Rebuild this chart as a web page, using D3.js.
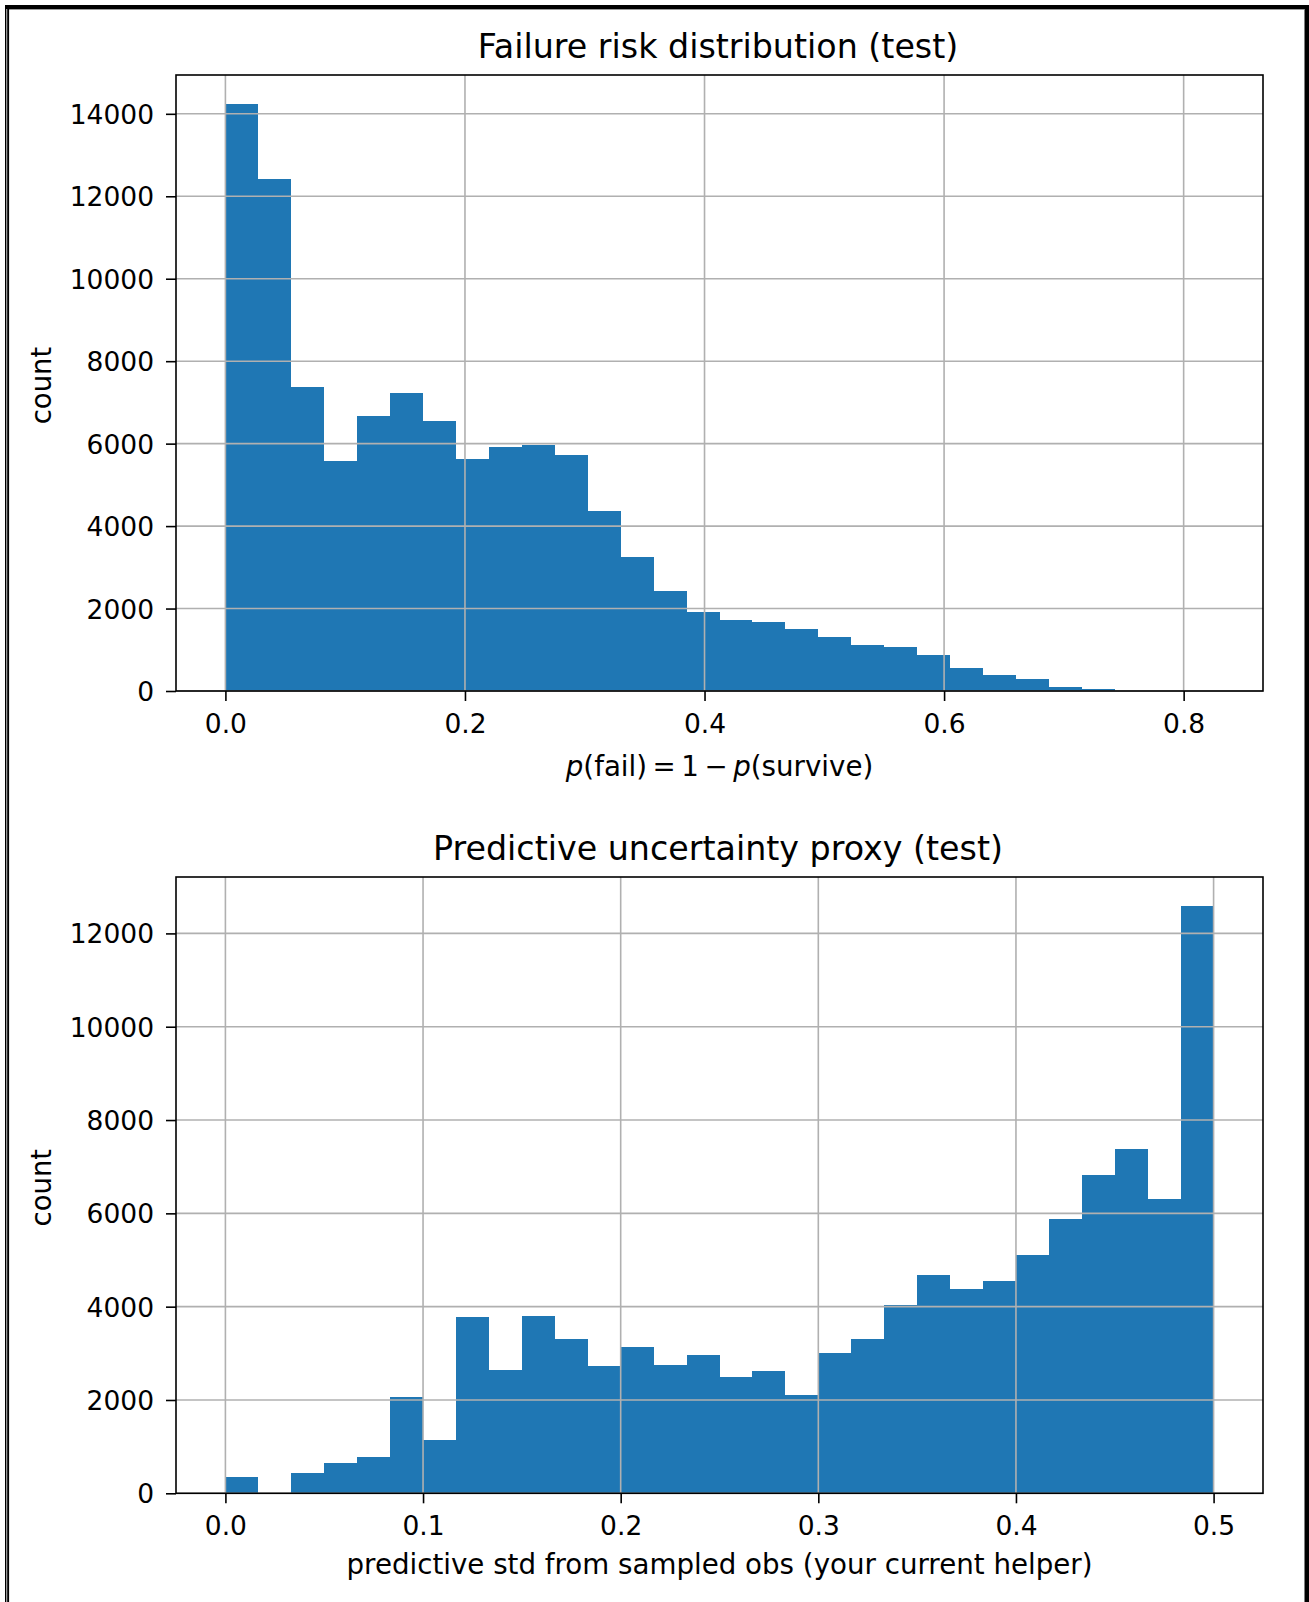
<!DOCTYPE html>
<html>
<head>
<meta charset="utf-8">
<script src="https://cdn.jsdelivr.net/npm/d3@7"></script>
<style>
  html, body { margin: 0; padding: 0; background: #ffffff; }
  svg { display: block; }
  text { font-family: "DejaVu Sans", sans-serif; fill: #000; }
</style>
</head>
<body>
<svg id="fig" width="1309" height="1602"></svg>
<script>
// Failure risk histogram: 30 equal-width bins over [0, 0.825]
const riskRange = [0, 0.825];
const riskCounts = [14230, 12418, 7371, 5588, 6661, 7226, 6556, 5636, 5918, 5975,
                    5733, 4376, 3262, 2430, 1905, 1712, 1663, 1510, 1316, 1122,
                    1074, 880, 549, 388, 299, 105, 48, 12, 4, 1];
const riskXTicks = [0, 0.2, 0.4, 0.6, 0.8];
const riskYTicks = [0, 2000, 4000, 6000, 8000, 10000, 12000, 14000];

// Predictive uncertainty histogram: 30 equal-width bins over [0, 0.5]
const uncRange = [0, 0.5];
const uncCounts = [350, 0, 441, 655, 784, 2062, 1134, 3781, 2632, 3790,
                   3317, 2718, 3138, 2753, 2960, 2496, 2625, 2111, 3010, 3317,
                   4031, 4680, 4380, 4551, 5116, 5878, 6820, 7376, 6314, 12580];
const uncXTicks = [0, 0.1, 0.2, 0.3, 0.4, 0.5];
const uncYTicks = [0, 2000, 4000, 6000, 8000, 10000, 12000];

const svg = d3.select("#fig");

// outer frame around the figure
const frame = svg.append("g");
frame.append("rect").attr("x", 5).attr("y", 5).attr("width", 1304).attr("height", 4).attr("fill", "#000");
frame.append("rect").attr("x", 9).attr("y", 9).attr("width", 1295).attr("height", 1).attr("fill", "#9a9a9a");
frame.append("rect").attr("x", 5).attr("y", 5).attr("width", 1.3).attr("height", 1597).attr("fill", "#000");
frame.append("rect").attr("x", 6.3).attr("y", 9).attr("width", 0.9).attr("height", 1593).attr("fill", "#8a8a8a");
frame.append("rect").attr("x", 7.2).attr("y", 5).attr("width", 1.9).attr("height", 1597).attr("fill", "#000");
frame.append("rect").attr("x", 1304.5).attr("y", 5).attr("width", 4.5).attr("height", 1597).attr("fill", "#000");

function histPanel(cfg) {
  const { left, right, top, bottom, range, counts, xTicks, yTicks, title, xLabel, xLabelGap } = cfg;
  const g = svg.append("g");
  const n = counts.length;
  const w = range[1] - range[0];
  const x = d3.scaleLinear()
    .domain([range[0] - 0.05 * w, range[1] + 0.05 * w])
    .range([left, right]);
  const y = d3.scaleLinear()
    .domain([0, 1.05 * d3.max(counts)])
    .range([bottom, top]);
  const edges = d3.range(n + 1).map(i => range[0] + w * i / n);
  const bins = counts.map((c, i) => ({ x0: edges[i], x1: edges[i + 1], c }));

  // bars
  g.append("g").attr("shape-rendering", "crispEdges")
    .selectAll("rect").data(bins).join("rect")
    .attr("x", d => x(d.x0))
    .attr("width", d => x(d.x1) - x(d.x0))
    .attr("y", d => y(d.c))
    .attr("height", d => y(0) - y(d.c))
    .attr("fill", "#1f77b4");

  // grid drawn over the bars
  const grid = g.append("g").attr("stroke", "#b0b0b0").attr("stroke-width", 1.6);
  grid.selectAll(".gx").data(xTicks).join("line")
    .attr("x1", d => x(d)).attr("x2", d => x(d))
    .attr("y1", top).attr("y2", bottom);
  grid.selectAll(".gy").data(yTicks).join("line")
    .attr("y1", d => y(d)).attr("y2", d => y(d))
    .attr("x1", left).attr("x2", right);

  // axes
  const xa = g.append("g").attr("transform", `translate(0,${bottom})`)
    .call(d3.axisBottom(x).tickValues(xTicks).tickFormat(d3.format(".1f")).tickSize(10));
  const ya = g.append("g").attr("transform", `translate(${left},0)`)
    .call(d3.axisLeft(y).tickValues(yTicks).tickFormat(d3.format("d")).tickSize(10));
  [xa, ya].forEach(a => {
    a.select(".domain").remove();
    a.selectAll(".tick line").attr("stroke", "#000").attr("stroke-width", 1.6);
    a.selectAll(".tick text").attr("font-size", "26.5px").attr("fill", "#000")
      .attr("font-family", "DejaVu Sans, sans-serif");
  });
  xa.selectAll(".tick text").attr("y", 41.5).attr("dy", 0);
  ya.selectAll(".tick text").attr("x", -22).attr("dy", 9.5);

  // axes frame
  g.append("rect")
    .attr("x", left).attr("y", top)
    .attr("width", right - left).attr("height", bottom - top)
    .attr("fill", "none").attr("stroke", "#000").attr("stroke-width", 1.6);

  // title
  g.append("text")
    .attr("x", (left + right) / 2 - 1.5).attr("y", top - 17.5)
    .attr("text-anchor", "middle").attr("font-size", "33.3px")
    .text(title);

  // y label
  g.append("text")
    .attr("transform", `translate(50.5,${(top + bottom) / 2 + 2.5}) rotate(-90)`)
    .attr("text-anchor", "middle").attr("font-size", "27.5px")
    .text("count");

  // x label
  const xl = g.append("text")
    .attr("x", (left + right) / 2).attr("y", bottom + xLabelGap)
    .attr("text-anchor", "middle").attr("font-size", "27.7px");
  xLabel(xl);
}

histPanel({
  left: 176, right: 1263, top: 75, bottom: 691,
  range: riskRange, counts: riskCounts,
  xTicks: riskXTicks, yTicks: riskYTicks,
  title: "Failure risk distribution (test)",
  xLabelGap: 85,
  xLabel: t => {
    t.append("tspan").attr("font-style", "italic").text("p");
    t.append("tspan").text("(fail)\u2009=\u20091\u2009\u2212\u2009");
    t.append("tspan").attr("font-style", "italic").text("p");
    t.append("tspan").text("(survive)");
  }
});

histPanel({
  left: 176, right: 1263, top: 877, bottom: 1493.3,
  range: uncRange, counts: uncCounts,
  xTicks: uncXTicks, yTicks: uncYTicks,
  title: "Predictive uncertainty proxy (test)",
  xLabelGap: 80.5,
  xLabel: t => t.text("predictive std from sampled obs (your current helper)")
});
</script>
</body>
</html>
